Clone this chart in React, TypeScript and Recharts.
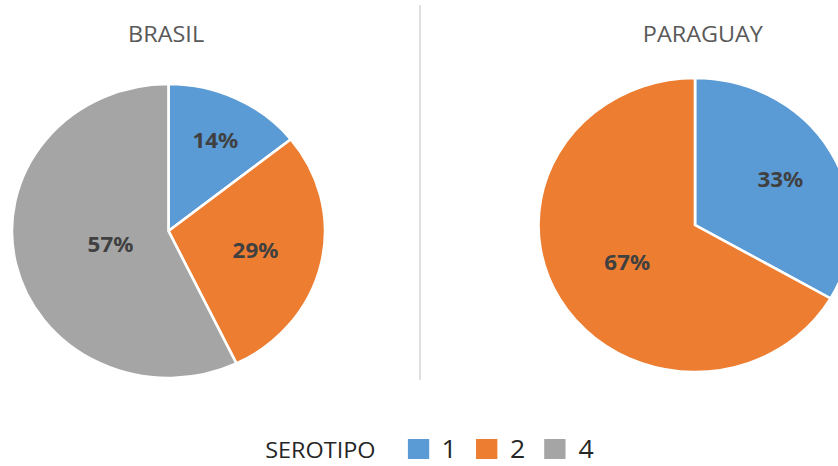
import { Legend, Pie, PieChart, Cell } from 'recharts';

const serotypes = ['1', '2', '4'];
const brasil = [1, 2, 4];
const paraguay = [1, 2, 0];
const titles = ['BRASIL', 'PARAGUAY'];
const legendTitle = 'SEROTIPO';

const COLORS = ['#5B9BD5', '#ED7D31', '#A5A5A5'];
// Excel's "best fit" labels sit at different depths inside each slice
const LABEL_DEPTH = [[0.69, 0.57, 0.38], [0.63, 0.5, 0]];

const SX = 1.065; // the source image is stretched horizontally
const W = 838 / SX;
const H = 466;
const RADIAN = Math.PI / 180;

const brasilData = serotypes.map((name, i) => ({ name, value: brasil[i] }));
const paraguayData = serotypes.map((name, i) => ({ name, value: paraguay[i] }));

function makeLabel(chart: number) {
  return (props: any) => {
    const { cx, cy, midAngle, outerRadius, percent, index } = props;
    if (!percent) return null;
    const r = outerRadius * LABEL_DEPTH[chart][index];
    const x = cx + r * Math.cos(-midAngle * RADIAN);
    const y = cy + r * Math.sin(-midAngle * RADIAN);
    return (
      <text x={x} y={y} textAnchor="middle" dominantBaseline="central" fill="#404040"
        fontFamily="'Noto Sans', sans-serif" fontWeight={700} fontSize={21}>
        {`${Math.round(percent * 100)}%`}
      </text>
    );
  };
}

function SerotypeLegend() {
  return (
    <div style={{ display: 'flex', alignItems: 'center', lineHeight: 1, fontFamily: "'Open Sans', sans-serif", color: '#262626' }}>
      <span style={{ fontSize: 22, marginRight: 30 }}>{legendTitle}</span>
      {serotypes.map((s, i) => (
        <span key={s} style={{ display: 'flex', alignItems: 'center', marginRight: 18 }}>
          <span style={{ width: 20, height: 20, background: COLORS[i], display: 'inline-block', marginRight: 12 }} />
          <span style={{ fontSize: 25 }}>{s}</span>
        </span>
      ))}
    </div>
  );
}

export default function App() {
  return (
    <div style={{ position: 'absolute', left: 0, top: 0, width: 838, height: H, overflow: 'hidden', background: '#fff' }}>
      <div style={{ width: W, height: H, transform: `scaleX(${SX})`, transformOrigin: '0 0' }}>
        <PieChart width={W} height={H} margin={{ top: 0, right: 0, bottom: 0, left: 0 }}>
          <line x1={394.4} y1={5} x2={394.4} y2={380} stroke="#D9D9D9" strokeWidth={1.5} />
          <text x={156} y={34} textAnchor="middle" dominantBaseline="central" fill="#595959"
            fontFamily="'Open Sans', sans-serif" fontSize={22}>{titles[0]}</text>
          <text x={660} y={34} textAnchor="middle" dominantBaseline="central" fill="#595959"
            fontFamily="'Open Sans', sans-serif" fontSize={22}>{titles[1]}</text>
          <Pie data={brasilData} dataKey="value" nameKey="name" cx={158.2} cy={231} outerRadius={147}
            startAngle={90} endAngle={-270} stroke="#fff" strokeWidth={2.5}
            label={makeLabel(0)} labelLine={false} isAnimationActive={false}>
            {brasilData.map((d, i) => <Cell key={d.name} fill={COLORS[i]} />)}
          </Pie>
          <Pie data={paraguayData} dataKey="value" nameKey="name" cx={652.6} cy={225} outerRadius={147}
            startAngle={90} endAngle={-270} stroke="#fff" strokeWidth={2.5}
            label={makeLabel(1)} labelLine={false} isAnimationActive={false}>
            {paraguayData.map((d, i) => <Cell key={d.name} fill={COLORS[i]} />)}
          </Pie>
          <Legend content={() => <SerotypeLegend />}
            wrapperStyle={{ position: 'absolute', left: 249, top: 436, width: 'auto' }} />
        </PieChart>
      </div>
    </div>
  );
}
